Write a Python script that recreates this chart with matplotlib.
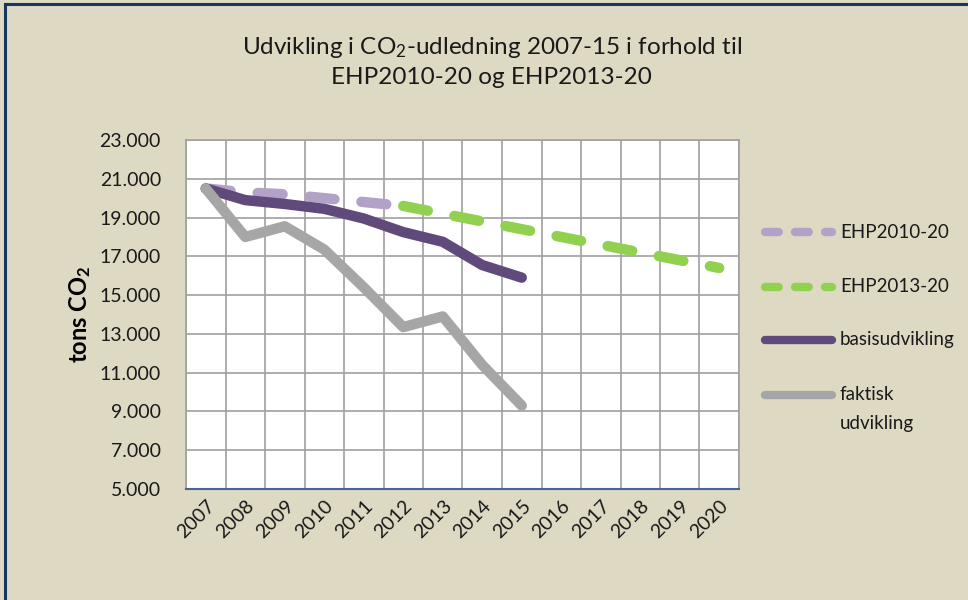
import matplotlib
matplotlib.use("Agg")
import matplotlib.pyplot as plt
from matplotlib.lines import Line2D
from matplotlib.ticker import FuncFormatter, FixedLocator

plt.rcParams['font.family'] = ['Lato', 'DejaVu Sans']
plt.rcParams['mathtext.fontset'] = 'custom'
plt.rcParams['mathtext.rm'] = 'Lato'
plt.rcParams['mathtext.it'] = 'Lato:italic'
plt.rcParams['mathtext.bf'] = 'Lato:bold'

# data
years = ['2007', '2008', '2009', '2010', '2011', '2012', '2013',
         '2014', '2015', '2016', '2017', '2018', '2019', '2020']
ehp2010 = [20500, 20300, 20200, 20000, 19800, 19600]
ehp2013 = [None, None, None, None, None, 19600, 19200, 18800,
           18400, 18000, 17600, 17200, 16800, 16400]
basis = [20500, 19900, 19700, 19450, 18950, 18250, 17750, 16550, 15900]
faktisk = [20500, 18000, 18550, 17350, 15400, 13350, 13900, 11400, 9300]
yticks = [5000, 7000, 9000, 11000, 13000, 15000, 17000, 19000, 21000, 23000]

labels = ['EHP2010-20', 'EHP2013-20', 'basisudvikling', 'faktisk\nudvikling']
colors = ['#B3A2C7', '#92D050', '#604A7B', '#A6A6A6']

bg = '#DDD9C3'
fig = plt.figure(figsize=(9.68, 6.0), dpi=100)
fig.patch.set_facecolor(bg)

ax = fig.add_axes([186/968, 1-489/600, (739-186)/968, (489-140)/600])
ax.set_facecolor('white')

lw = 7.5
dash = (0, (2.4, 2.6))

def xs(vals):
    return [i for i, v in enumerate(vals) if v is not None], [v for v in vals if v is not None]

x, y = xs(ehp2010)
ax.plot(x, y, color=colors[0], lw=lw, ls=dash, dash_capstyle='round', zorder=3)
x, y = xs(ehp2013)
ax.plot(x, y, color=colors[1], lw=lw, ls=dash, dash_capstyle='round', zorder=4)
x, y = xs(basis)
ax.plot(x, y, color=colors[2], lw=lw, solid_capstyle='round', solid_joinstyle='round', zorder=5)
x, y = xs(faktisk)
ax.plot(x, y, color=colors[3], lw=lw, solid_capstyle='round', solid_joinstyle='round', zorder=6)

ax.set_xlim(-0.5, len(years) - 0.5)
ax.set_ylim(yticks[0], yticks[-1])
ax.yaxis.set_major_locator(FixedLocator(yticks))
ax.yaxis.set_major_formatter(FuncFormatter(lambda v, p: f"{int(v):,}".replace(',', '.')))
ax.set_xticks(range(len(years)))
ax.set_xticklabels(years, rotation=45, ha='right', va='top', rotation_mode='anchor')
ax.xaxis.set_minor_locator(FixedLocator([i - 0.5 for i in range(len(years) + 1)]))

ax.grid(True, which='major', axis='y', color='#A0A0A0', lw=1.2)
ax.grid(True, which='minor', axis='x', color='#A0A0A0', lw=1.2)
ax.set_axisbelow(True)
ax.tick_params(axis='both', which='both', length=0, labelsize=14, colors='#1a1a1a')
ax.tick_params(axis='x', pad=6)
ax.tick_params(axis='y', pad=18)
for s in ['top', 'right', 'left']:
    ax.spines[s].set_color('#A0A0A0')
    ax.spines[s].set_linewidth(1.2)
ax.spines['bottom'].set_color('#4A6396')
ax.spines['bottom'].set_linewidth(1.5)

ax.set_ylabel(r'tons CO$_\mathbf{2}$', fontsize=17, fontweight='bold', labelpad=5)

fig.text(0.508, 1-47/600, 'Udvikling i CO$_2$-udledning 2007-15 i forhold til',
         ha='center', va='center', fontsize=17.5, color='#1a1a1a')
fig.text(0.508, 1-77/600, 'EHP2010-20 og EHP2013-20',
         ha='center', va='center', fontsize=17.5, color='#1a1a1a')

# legend drawn by hand to place handles like the original
leg_y = [232, 287, 340, 395]
for i, (lab, col) in enumerate(zip(labels, colors)):
    yy = 1 - leg_y[i]/600
    kw = dict(color=col, lw=6, transform=fig.transFigure)
    if i < 2:
        kw.update(ls=(0, (1.65, 1.95)), dash_capstyle='round')
    else:
        kw.update(solid_capstyle='round')
    fig.add_artist(Line2D([765/968, 832/968], [yy, yy], **kw))
    for k, part in enumerate(lab.split('\n')):
        fig.text(840/968, yy - k*28/600, part, ha='left', va='center',
                 fontsize=13.5, color='#1a1a1a')

# navy border
fig.add_artist(Line2D([5/968, 5/968], [0, 1-4/600], color='#17375E', lw=2.2,
                      transform=fig.transFigure))
fig.add_artist(Line2D([5/968, 1], [1-4/600, 1-4/600], color='#17375E', lw=2.2,
                      transform=fig.transFigure))

fig.savefig('out.png', dpi=100, facecolor=bg)
